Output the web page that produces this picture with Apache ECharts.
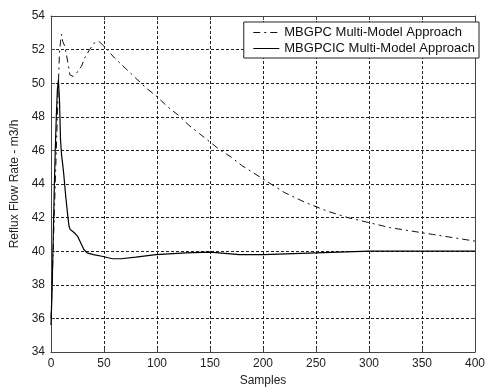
<!DOCTYPE html>
<html>
<head>
<meta charset="utf-8">
<script src="https://cdn.jsdelivr.net/npm/echarts@6/dist/echarts.min.js"></script>
<style>html,body{margin:0;padding:0;background:#fff}#c{width:488px;height:392px}</style>
</head>
<body>
<div id="c"></div>
<script>
// Data
const mbgpcSamples = [0, 2, 4, 6, 7, 8, 9, 10, 11, 13, 14.6, 16, 17.8, 20.8, 24, 28.7, 31.8, 36.4, 41, 45, 50, 60, 70, 80, 90, 100, 110, 120, 130, 140, 150, 160, 170, 180, 190, 200, 220, 240, 260, 280, 300, 320, 340, 360, 380, 400];
const mbgpcValues  = [36, 40, 44, 48, 50, 51.8, 52.5, 52.9, 52.5, 52.2, 52.1, 51.2, 50.5, 50.4, 50.6, 51.0, 51.5, 52.0, 52.4, 52.5, 52.2, 51.5, 50.9, 50.3, 49.7, 49.2, 48.6, 48.1, 47.5, 47.0, 46.5, 46.0, 45.6, 45.1, 44.7, 44.3, 43.5, 42.9, 42.4, 42.0, 41.7, 41.4, 41.2, 41.0, 40.8, 40.6];
const mbgpcicSamples = [0, 1, 2, 3, 4, 5, 6, 7, 8, 9, 10, 11, 12, 13, 14, 15, 16, 17, 18, 20, 22, 25, 28, 31, 34, 40, 48, 58, 66, 80, 99, 127, 150, 178, 200, 250, 300, 350, 400];
const mbgpcicValues  = [35.6, 37.6, 40.5, 43.5, 46, 48, 49.6, 50.2, 49, 46.6, 45.7, 45.2, 44.6, 43.9, 43.2, 42.6, 42.0, 41.5, 41.3, 41.2, 41.1, 40.9, 40.5, 40.1, 39.9, 39.8, 39.7, 39.55, 39.55, 39.65, 39.8, 39.9, 39.95, 39.8, 39.8, 39.9, 40.0, 40.0, 40.0];
const xTicks = [0, 50, 100, 150, 200, 250, 300, 350, 400];
const yTicks = [34, 36, 38, 40, 42, 44, 46, 48, 50, 52, 54];
const seriesNames = ['MBGPC Multi-Model Approach', 'MBGPCIC Multi-Model Approach'];

const zip = (a, b) => a.map((v, i) => [v, b[i]]);
const font = 'Liberation Sans, Arial, sans-serif';
const gridLine = { show: true, lineStyle: { color: '#222', type: [3, 2], width: 1 } };
const frame = { show: true, onZero: false, lineStyle: { color: '#444', width: 1 } };

const chart = echarts.init(document.getElementById('c'), null, { renderer: 'canvas' });
chart.setOption({
  animation: false,
  backgroundColor: '#fff',
  grid: { left: 51, right: 9, top: 16, bottom: 37 },
  legend: {
    right: 9, top: 22,
    orient: 'vertical',
    backgroundColor: '#fff',
    borderColor: '#222', borderWidth: 1,
    padding: [4, 4, 3, 9],
    itemGap: 3,
    itemWidth: 26, itemHeight: 13,
    itemStyle: { opacity: 0 },
    lineStyle: { width: 1 },
    textStyle: { fontFamily: font, fontSize: 13, color: '#111' },
    data: seriesNames
  },
  xAxis: [{
    type: 'value', min: xTicks[0], max: xTicks[xTicks.length - 1], interval: 50,
    name: 'Samples', nameLocation: 'middle', nameGap: 23,
    nameTextStyle: { fontFamily: font, fontSize: 12, color: '#222' },
    axisLine: frame,
    axisTick: { show: true, inside: true, length: 4, lineStyle: { color: '#444' } },
    axisLabel: { fontFamily: font, fontSize: 12, color: '#222', margin: 6 },
    splitLine: gridLine
  }, {
    type: 'value', position: 'top', min: xTicks[0], max: xTicks[xTicks.length - 1], interval: 50,
    axisLine: frame,
    axisTick: { show: true, inside: true, length: 4, lineStyle: { color: '#444' } },
    axisLabel: { show: false }, splitLine: { show: false }
  }],
  yAxis: [{
    type: 'value', min: yTicks[0], max: yTicks[yTicks.length - 1], interval: 2,
    name: 'Reflux Flow Rate - m3/h', nameLocation: 'middle', nameGap: 27,
    nameTextStyle: { fontFamily: font, fontSize: 12, color: '#222' },
    axisLine: frame,
    axisTick: { show: true, inside: true, length: 4, lineStyle: { color: '#444' } },
    axisLabel: { fontFamily: font, fontSize: 12, color: '#222', margin: 6 },
    splitLine: gridLine
  }, {
    type: 'value', position: 'right', min: yTicks[0], max: yTicks[yTicks.length - 1], interval: 2,
    axisLine: frame,
    axisTick: { show: true, inside: true, length: 4, lineStyle: { color: '#444' } },
    axisLabel: { show: false }, splitLine: { show: false }
  }],
  series: [{
    name: seriesNames[0], type: 'line', symbol: 'none', smooth: false,
    data: zip(mbgpcSamples, mbgpcValues),
    itemStyle: { color: '#111' },
    lineStyle: { color: '#111', width: 1, type: [7, 4, 2, 4] },
    z: 3
  }, {
    name: seriesNames[1], type: 'line', symbol: 'none', smooth: false,
    data: zip(mbgpcicSamples, mbgpcicValues),
    itemStyle: { color: '#000' },
    lineStyle: { color: '#000', width: 1.2 },
    z: 4
  }]
});
</script>
</body>
</html>
